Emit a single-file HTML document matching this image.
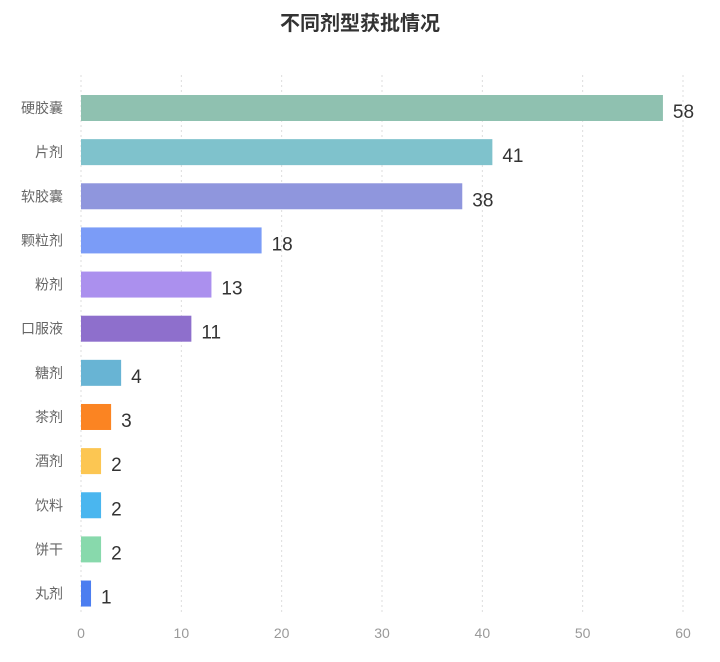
<!DOCTYPE html>
<html><head><meta charset="utf-8"><style>
body{margin:0;background:#fff;width:720px;height:657px;overflow:hidden;font-family:"Liberation Sans","Noto Sans CJK SC",sans-serif}
</style></head><body>
<svg id="chart" width="720" height="657" xmlns="http://www.w3.org/2000/svg">
<text x="360" y="30" text-anchor="middle" font-size="20" font-weight="bold" fill="#333" font-family="Liberation Sans, Noto Sans CJK SC, sans-serif">不同剂型获批情况</text>
<g id="grid"></g><g id="bars"></g><g id="labels"></g>
</svg>
<script>
const categories=["硬胶囊","片剂","软胶囊","颗粒剂","粉剂","口服液","糖剂","茶剂","酒剂","饮料","饼干","丸剂"];
const values=[58,41,38,18,13,11,4,3,2,2,2,1];
const colors=["#8fc1b0","#7fc2cc","#8f96dd","#7b9cf7","#ab90ee","#8e6fcc","#68b4d4","#fb8422","#fcc652","#4ab6ef","#88d9ac","#4c7ef0"];
const ticks=[0,10,20,30,40,50,60];
const x0=81,x1=683,xmax=60,y0=108,step=44.14,bh=26;
const xs=v=>x0+(x1-x0)*v/xmax;
const ys=i=>y0+i*step;
const ns="http://www.w3.org/2000/svg";
const g=document.getElementById('grid'),b=document.getElementById('bars'),l=document.getElementById('labels');
function mk(tag,attrs,parent,text){const e=document.createElementNS(ns,tag);for(const k in attrs)e.setAttribute(k,attrs[k]);if(text!==undefined)e.textContent=text;parent.appendChild(e);return e;}
ticks.forEach(t=>{
 const ln=mk('line',{x1:xs(t),x2:xs(t),y1:75,y2:615,stroke:'#ddd','stroke-dasharray':'2,3'},g);
 
 
 const tx=mk('text',{x:xs(t),y:638,'text-anchor':'middle','font-size':14,fill:'#999'},g,String(t));
 
 
});
categories.forEach((c,i)=>{
 const y=ys(i);
 const r=mk('rect',{x:x0,y:y-bh/2,width:xs(values[i])-x0,height:bh,fill:colors[i]},b);
 
 
 const ct=mk('text',{x:63,y:y+5,'text-anchor':'end','font-size':14,fill:'#666'},l,c);
 
 
 const vt=mk('text',{x:xs(values[i])+10,y:y+10,'font-size':19,fill:'#333'},l,String(values[i]));
 
 
});
</script>
</body></html>
